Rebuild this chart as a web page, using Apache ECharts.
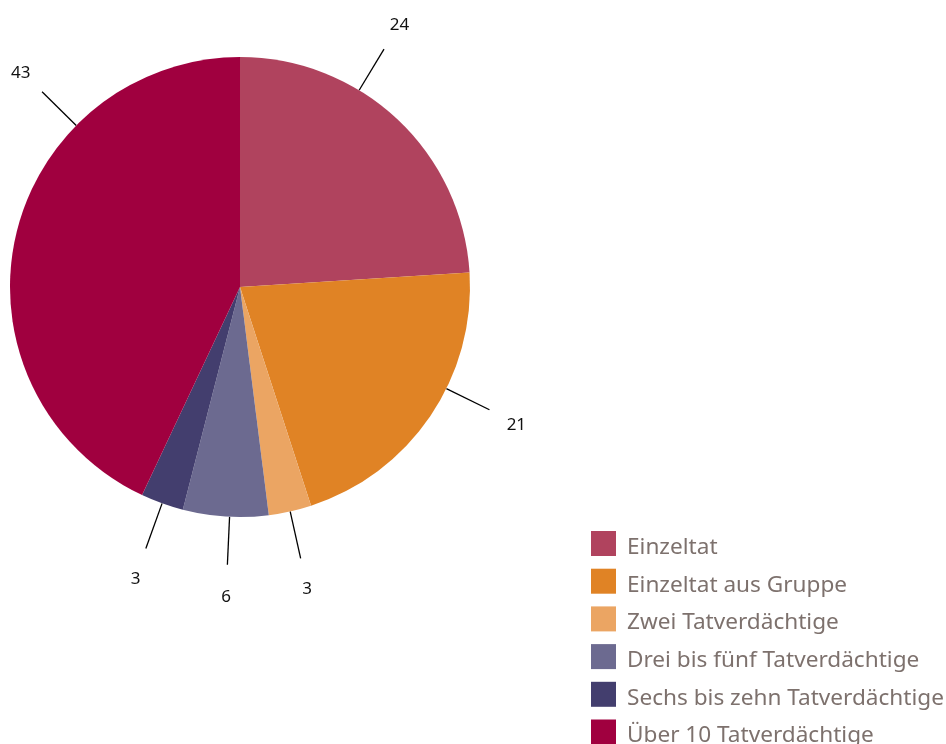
<!DOCTYPE html>
<html>
<head>
<meta charset="utf-8">
<script src="https://cdn.jsdelivr.net/npm/echarts@6/dist/echarts.min.js"></script>
<style>
	html, body { margin: 0; padding: 0; background: #fff; }
	#chart { width: 946px; height: 744px; }
</style>
</head>
<body>
<div id="chart"></div>
<script>
	// categories and values
	const categories = ['Einzeltat', 'Einzeltat aus Gruppe', 'Zwei Tatverdächtige',
		'Drei bis fünf Tatverdächtige', 'Sechs bis zehn Tatverdächtige', 'Über 10 Tatverdächtige'];
	const values = [24, 21, 3, 6, 3, 43];
	const colors = ['#b0435e', '#e08325', '#eba563', '#6c6a90', '#433e6e', '#a0003f'];

	const cx = 240, cy = 287, R = 230;
	// label angle tweaks (degrees), like the original placement
	const angleShift = { 0: -12, 1: -8, 3: -1, 5: 32 };

	const total = values.reduce((a, b) => a + b, 0);
	const midAngles = [];
	let acc = 0;
	values.forEach(v => { midAngles.push((acc + v / 2) / total * 360); acc += v; });

	function pt(deg, r) {
		const a = deg * Math.PI / 180;
		return [cx + r * Math.sin(a), cy - r * Math.cos(a)];
	}

	const chart = echarts.init(document.getElementById('chart'));
	chart.setOption({
		animation: false,
		color: colors,
		legend: {
			orient: 'vertical',
			left: 591,
			top: 531,
			height: 400,
			padding: 0,
			itemWidth: 25,
			itemHeight: 25,
			itemGap: 9.7,
			icon: 'rect',
			formatter: '{a|{name}}',
			textStyle: {
				color: '#7d716d', fontSize: 22.6, fontFamily: 'Noto Sans', padding: [0, 0, 0, 6],
				rich: { a: { color: '#7d716d', fontSize: 22.6, fontFamily: 'Noto Sans', padding: [8, 0, 0, 0] } }
			},
			data: categories
		},
		series: [{
			type: 'pie',
			center: [cx, cy],
			radius: R,
			startAngle: 90,
			clockwise: true,
			avoidLabelOverlap: false,
			label: {
				show: true,
				formatter: '{c}',
				color: '#111',
				fontSize: 17,
				fontFamily: 'Noto Sans'
			},
			labelLine: {
				show: true,
				length: 48,
				length2: 0,
				lineStyle: { color: '#000', width: 1.3 }
			},
			labelLayout: function (p) {
				const ang = midAngles[p.dataIndex] + (angleShift[p.dataIndex] || 0);
				const a = pt(ang, R);
				const b = pt(ang, R + 48);
				const t = pt(ang, R + 78);
				return {
					x: t[0], y: t[1] + 2,
					align: 'center', verticalAlign: 'middle',
					labelLinePoints: [a, b, b]
				};
			},
			emphasis: { disabled: true },
			data: categories.map((c, i) => ({ name: c, value: values[i] }))
		}]
	});
</script>
</body>
</html>
